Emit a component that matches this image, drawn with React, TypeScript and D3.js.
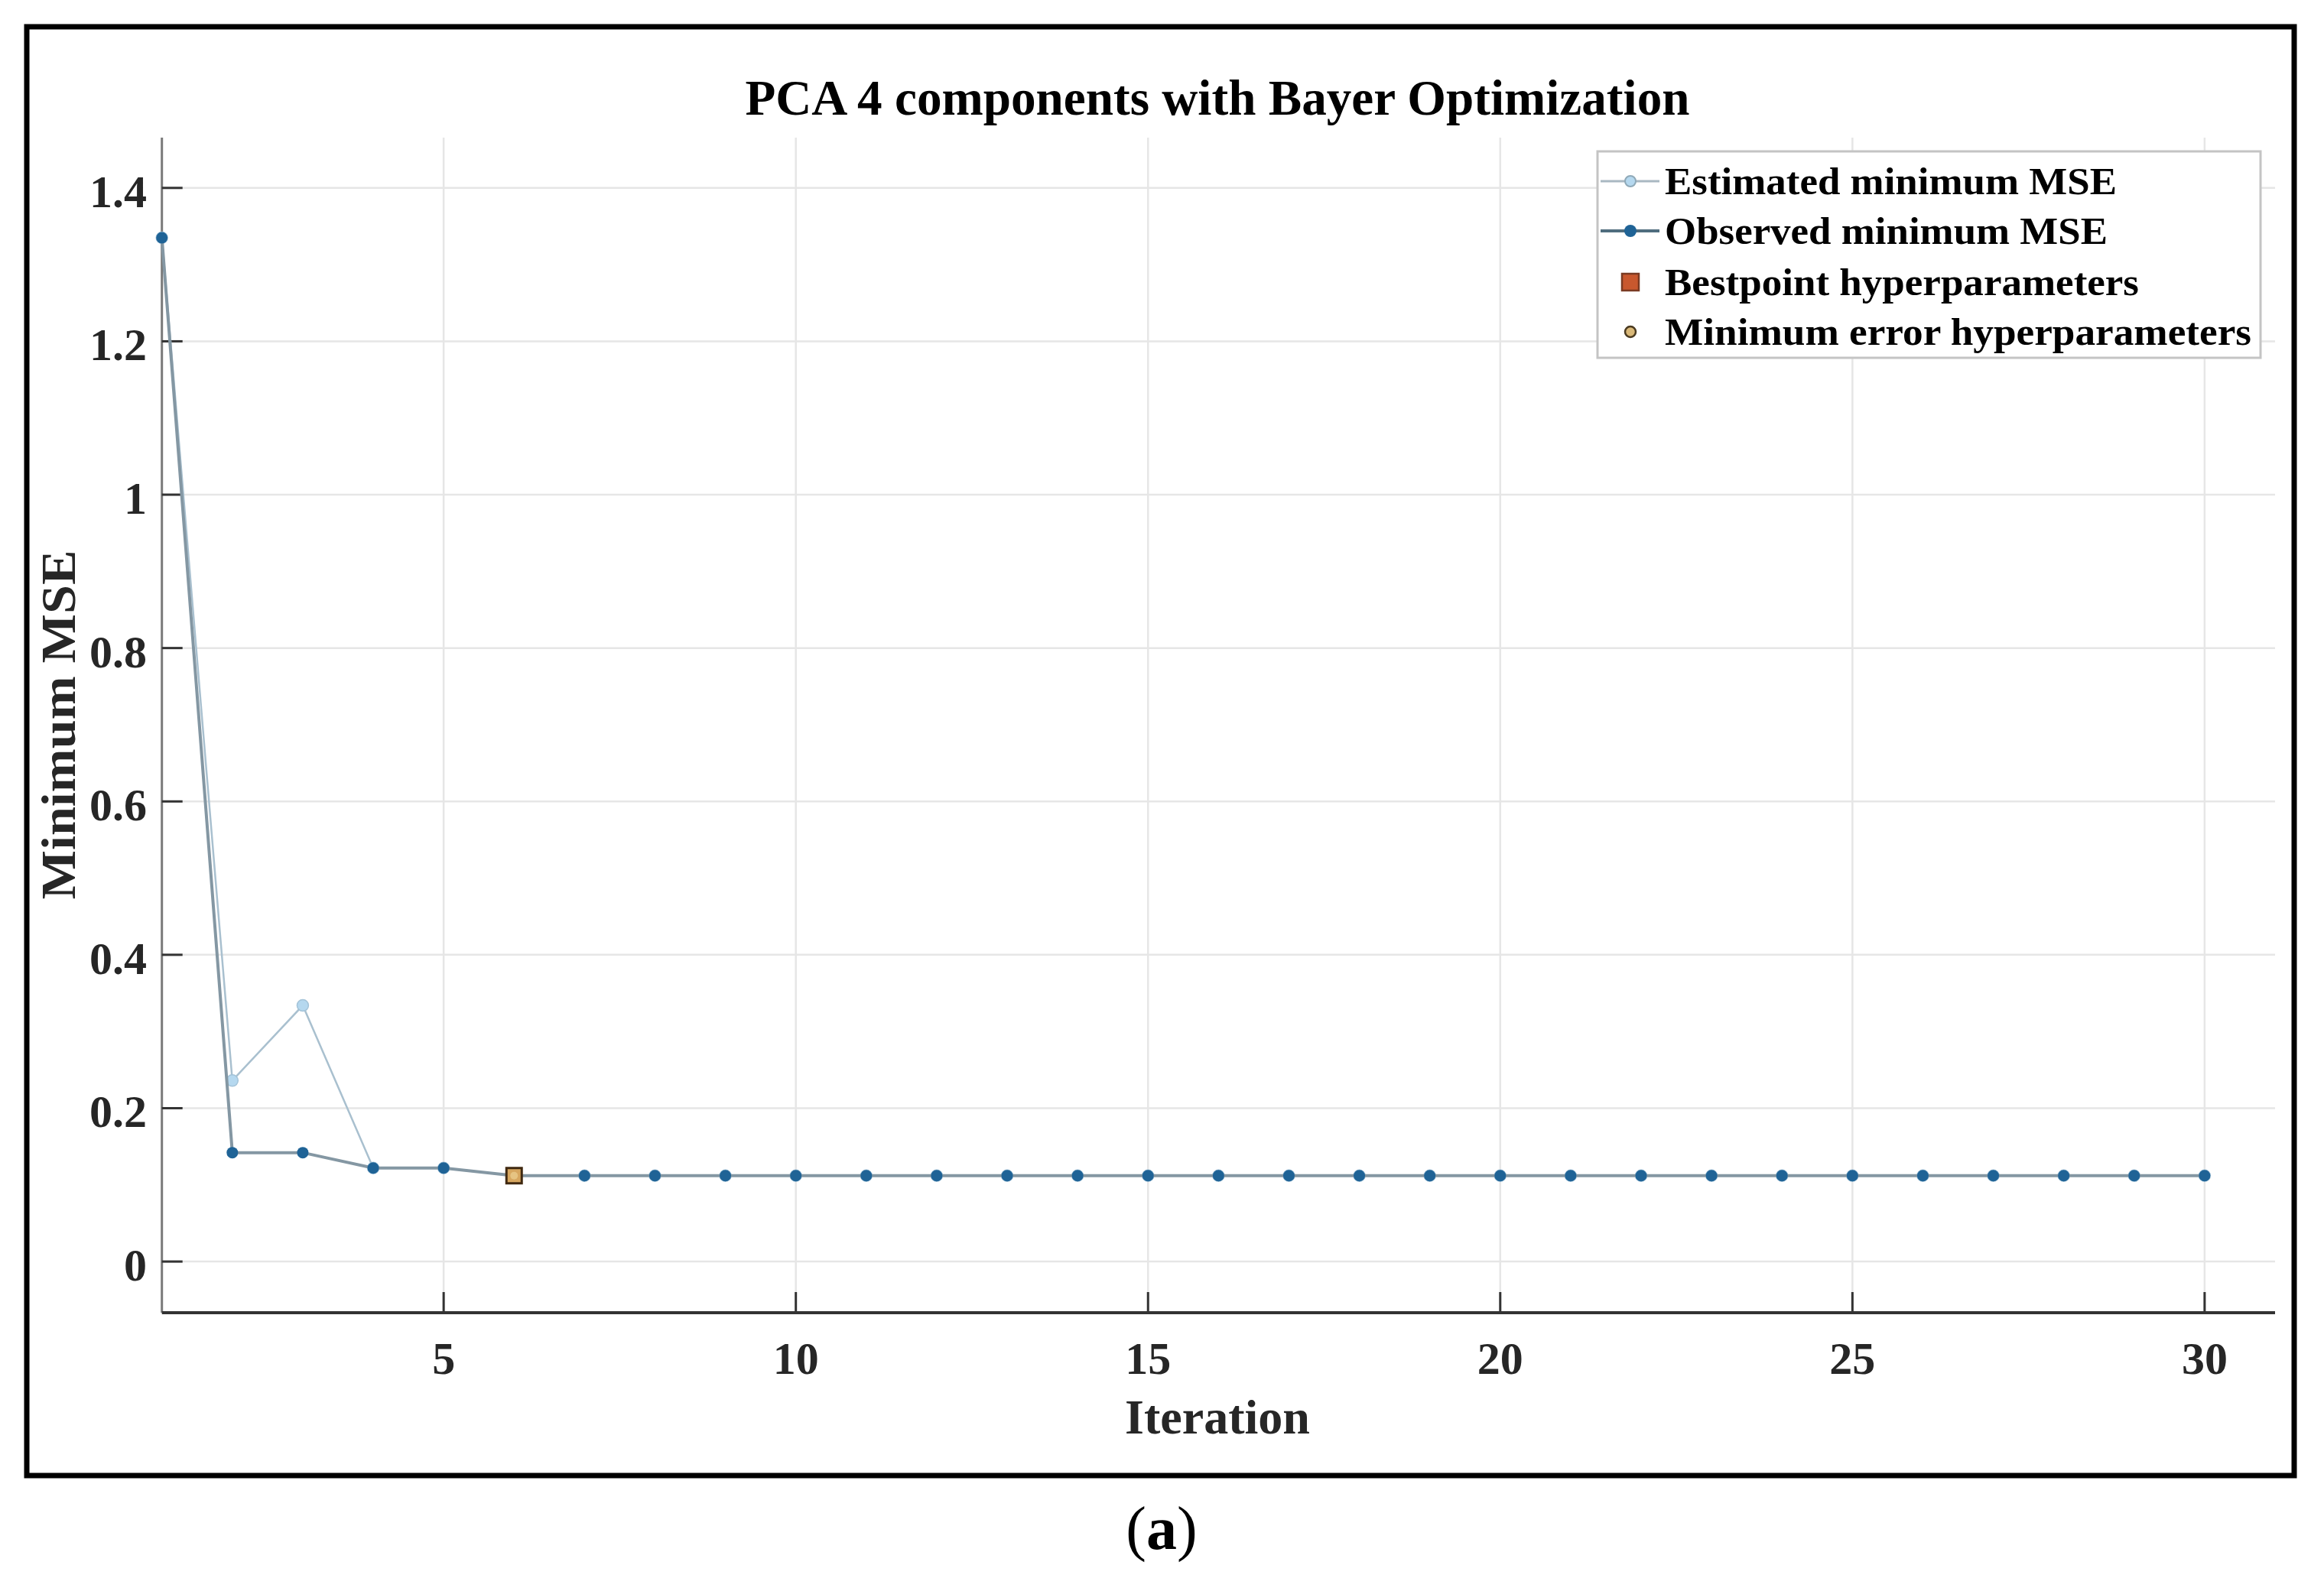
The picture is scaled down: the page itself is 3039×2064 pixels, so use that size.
import React from 'react';
import * as d3 from 'd3';

const iterations = [1, 2, 3, 4, 5, 6, 7, 8, 9, 10, 11, 12, 13, 14, 15, 16, 17, 18, 19, 20, 21, 22, 23, 24, 25, 26, 27, 28, 29, 30];
const estimatedMin = [1.335, 0.236, 0.334, 0.122, 0.122, 0.112, 0.112, 0.112, 0.112, 0.112, 0.112, 0.112, 0.112, 0.112, 0.112,
  0.112, 0.112, 0.112, 0.112, 0.112, 0.112, 0.112, 0.112, 0.112, 0.112, 0.112, 0.112, 0.112, 0.112, 0.112];
const observedMin = [1.335, 0.142, 0.142, 0.122, 0.122, 0.112, 0.112, 0.112, 0.112, 0.112, 0.112, 0.112, 0.112, 0.112, 0.112,
  0.112, 0.112, 0.112, 0.112, 0.112, 0.112, 0.112, 0.112, 0.112, 0.112, 0.112, 0.112, 0.112, 0.112, 0.112];
const bestPoint = { iter: 6, value: 0.112 };
const xTicks = [5, 10, 15, 20, 25, 30];
const yTicks = [0, 0.2, 0.4, 0.6, 0.8, 1, 1.2, 1.4];
const legendLabels = ['Estimated minimum MSE', 'Observed minimum MSE', 'Bestpoint hyperparameters', 'Minimum error hyperparameters'];
const legendWidths = [591, 579, 620, 767];

const W = 3039, H = 2064;
const serif = '"Liberation Serif", "Times New Roman", serif';

export default function App() {
  const x = d3.scaleLinear().domain([1, 31]).range([211.7, 2975]);
  const y = d3.scaleLinear().domain([-0.0667, 1.4656]).range([1717, 180]);
  const [x0, x1] = x.range();
  const [y0, y1] = y.range();

  const line = d3.line<number>().x((_, i) => x(iterations[i])).y(d => y(d));

  const legRows = [237, 302, 369, 434];

  return (
    <svg width={W} height={H} style={{ position: 'absolute', left: 0, top: 0, background: '#fff' }}>
      <rect x={0} y={0} width={W} height={H} fill="#fff" />
      {/* grid */}
      {xTicks.map(t => (
        <line key={'gx' + t} x1={x(t)} x2={x(t)} y1={y1} y2={y0} stroke="#e6e6e6" strokeWidth={2.5} />
      ))}
      {yTicks.map(t => (
        <line key={'gy' + t} x1={x0} x2={x1} y1={y(t)} y2={y(t)} stroke="#e6e6e6" strokeWidth={2.5} />
      ))}

      {/* axes */}
      <line x1={x0} x2={x0} y1={y1} y2={y0} stroke="#7a7a7a" strokeWidth={3} />
      <line x1={x0} x2={x1} y1={y0} y2={y0} stroke="#333" strokeWidth={4} />
      {xTicks.map(t => (
        <g key={'tx' + t}>
          <line x1={x(t)} x2={x(t)} y1={y0} y2={y0 - 27} stroke="#333" strokeWidth={3} />
          <text x={x(t)} y={1797} textAnchor="middle" fontFamily={serif} fontWeight="bold" fontSize={60} fill="#262626">{t}</text>
        </g>
      ))}
      {yTicks.map(t => (
        <g key={'ty' + t}>
          <line x1={x0} x2={x0 + 27} y1={y(t)} y2={y(t)} stroke="#333" strokeWidth={3} />
          <text x={192} y={y(t) + 25} textAnchor="end" fontFamily={serif} fontWeight="bold" fontSize={60} fill="#262626">{String(t)}</text>
        </g>
      ))}

      {/* series */}
      <path d={line(estimatedMin) || ''} fill="none" stroke="#a9c0cf" strokeWidth={2.5} />
      {estimatedMin.map((v, i) => (
        <circle key={'e' + i} cx={x(iterations[i])} cy={y(v)} r={7.5} fill="#b5d8ef" stroke="#a3c3d8" strokeWidth={1.5} />
      ))}
      <path d={line(observedMin) || ''} fill="none" stroke="#8497a3" strokeWidth={4} />
      {observedMin.map((v, i) => (
        <circle key={'o' + i} cx={x(iterations[i])} cy={y(v)} r={7.5} fill="#1f6396" />
      ))}
      <rect x={x(bestPoint.iter) - 10} y={y(bestPoint.value) - 10} width={20} height={20} fill="#d7a760" stroke="#3f2810" strokeWidth={3} />
      <circle cx={x(bestPoint.iter)} cy={y(bestPoint.value)} r={5} fill="#e6c483" />

      {/* legend */}
      <rect x={2089} y={198} width={867} height={270} fill="#fff" stroke="#c4c4c4" strokeWidth={3} />
      <line x1={2093} x2={2170} y1={legRows[0]} y2={legRows[0]} stroke="#a9b8c2" strokeWidth={3} />
      <circle cx={2132} cy={legRows[0]} r={7} fill="#b5d8ef" stroke="#8fa9b8" strokeWidth={2} />
      <line x1={2093} x2={2170} y1={legRows[1]} y2={legRows[1]} stroke="#4f6d7e" strokeWidth={4} />
      <circle cx={2132} cy={legRows[1]} r={8} fill="#1f6396" />
      <rect x={2121} y={legRows[2] - 11} width={22} height={22} fill="#c8582e" stroke="#7a3a22" strokeWidth={2.5} />
      <circle cx={2132} cy={legRows[3]} r={7} fill="#d9b878" stroke="#4a3a20" strokeWidth={2.5} />
      {legendLabels.map((s, i) => (
        <text key={s} x={2177} y={legRows[i] + 17} fontFamily={serif} fontWeight="bold" fontSize={50} fill="#000"
          textLength={legendWidths[i]} lengthAdjust="spacingAndGlyphs">{s}</text>
      ))}

      {/* titles */}
      <text x={1592} y={150} textAnchor="middle" fontFamily={serif} fontWeight="bold" fontSize={66} fill="#000"
        textLength={1235} lengthAdjust="spacingAndGlyphs">PCA 4 components with Bayer Optimization</text>
      <text x={1592} y={1875} textAnchor="middle" fontFamily={serif} fontWeight="bold" fontSize={64} fill="#262626"
        textLength={242} lengthAdjust="spacingAndGlyphs">Iteration</text>
      <text transform="translate(98,948) rotate(-90)" textAnchor="middle" fontFamily={serif} fontWeight="bold" fontSize={64} fill="#262626"
        textLength={457} lengthAdjust="spacingAndGlyphs">Minimum MSE</text>

      {/* frame */}
      <rect x={35} y={35} width={2965} height={1895} fill="none" stroke="#000" strokeWidth={7} />
      <text x={1519} y={2026} textAnchor="middle" fontFamily={serif} fontSize={80} fill="#000">
        (<tspan fontWeight="bold">a</tspan>)
      </text>
    </svg>
  );
}
